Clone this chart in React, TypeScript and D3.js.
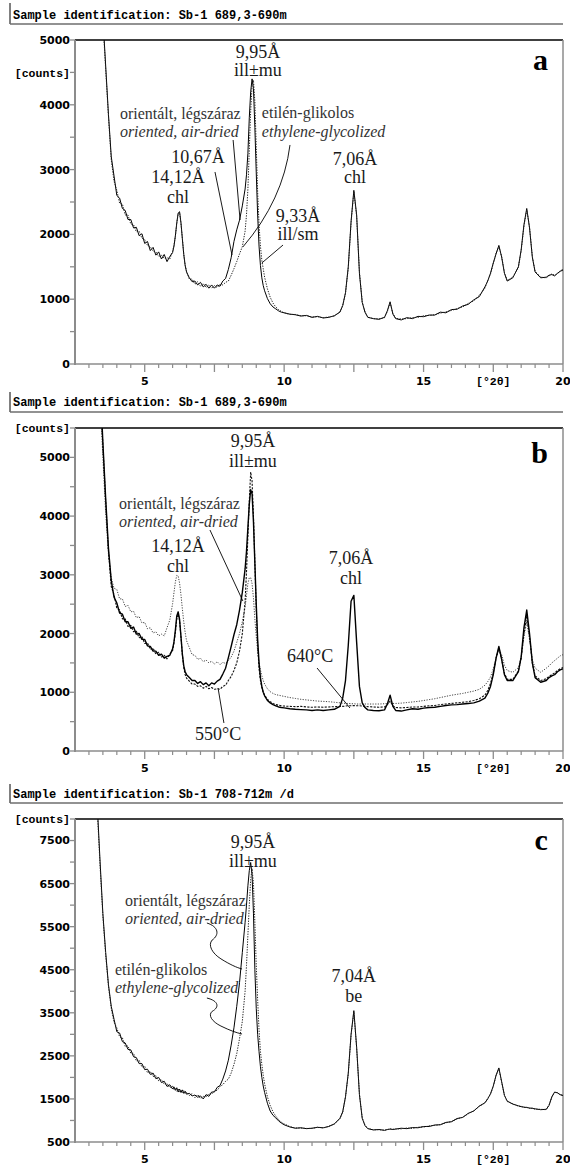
import React from 'react';
import * as d3 from 'd3';

// 2θ grid (degrees) shared by all diffractograms
const twoTheta = [
  3.3, 3.4, 3.5, 3.6, 3.7, 3.8, 3.9, 4.0, 4.1, 4.2, 4.3, 4.4, 4.5, 4.6, 4.7, 4.8, 4.9, 5.0, 5.1, 5.2, 5.3, 5.4, 5.5, 5.6, 5.7, 5.8, 5.9, 6.0,
  6.05, 6.1, 6.15, 6.2, 6.25, 6.3, 6.35, 6.4, 6.45, 6.5,
  6.6, 6.7, 6.8, 6.9, 7.0, 7.1, 7.2, 7.3, 7.4, 7.5, 7.6, 7.7, 7.8, 7.9, 8.0,
  8.1, 8.2, 8.3, 8.4, 8.5,
  8.6, 8.65, 8.7, 8.75, 8.8, 8.85, 8.9, 8.95, 9.0, 9.05, 9.1, 9.15, 9.2, 9.25, 9.3,
  9.4, 9.5, 9.6, 9.7, 9.8, 9.9, 10.0,
  10.2, 10.4, 10.6, 10.8, 11.0, 11.2, 11.4, 11.6, 11.8, 12.0,
  12.1, 12.2, 12.3, 12.4, 12.5, 12.6, 12.7, 12.8, 12.9,
  13.0, 13.2, 13.4, 13.6, 13.7, 13.8, 13.9,
  14.0, 14.2, 14.4, 14.6, 14.8, 15.0, 15.2, 15.4, 15.6, 15.8, 16.0, 16.2, 16.4, 16.6, 16.8, 17.0, 17.2,
  17.3, 17.4, 17.5, 17.6, 17.7, 17.8, 17.9, 18.0,
  18.2, 18.4, 18.5, 18.6, 18.7, 18.8, 18.9, 19.0,
  19.2, 19.4, 19.5, 19.6, 19.7, 19.8, 19.9, 20.0,
];

// Panel a — Sb-1 689,3-690m
const aAirDried = [
  7600, 6300, 5350, 4600, 3850, 3200, 2900, 2600, 2560, 2400, 2370, 2230, 2230, 2100, 2110, 1980, 2010, 1860, 1890, 1750, 1800, 1680, 1730, 1620, 1690, 1580, 1660, 1720,
  1820, 1980, 2180, 2330, 2350, 2180, 1930, 1690, 1520, 1420,
  1330, 1270, 1280, 1220, 1260, 1190, 1230, 1170, 1220, 1170, 1220, 1200, 1280, 1320, 1460,
  1640, 1890, 2070, 2220, 2440,
  2700, 2920, 3250, 3800, 4200, 4400, 4250, 3650, 2950, 2300, 1820, 1520, 1330, 1210, 1130,
  1010, 930, 880, 850, 820, 800, 790,
  770, 760, 740, 750, 720, 735, 710, 720, 745, 800,
  900, 1100, 1500, 2200, 2680, 2300, 1400, 950, 800,
  720, 700, 690, 720, 820, 960, 770,
  700, 680, 715, 700, 735, 730, 755, 755, 800, 790, 840, 845, 895, 920, 990, 1040, 1190,
  1280, 1400, 1560, 1700, 1830, 1650, 1400, 1280,
  1330, 1500, 1760, 2150, 2400, 2100, 1650, 1420,
  1330, 1340, 1370, 1380, 1360, 1400, 1430, 1450,
];
const aGlycolized = [
  7500, 6250, 5300, 4550, 3820, 3150, 2820, 2680, 2480, 2470, 2300, 2300, 2160, 2150, 2040, 2050, 1940, 1920, 1830, 1810, 1740, 1730, 1660, 1680, 1630, 1640, 1620, 1740,
  1830, 1970, 2170, 2320, 2340, 2170, 1940, 1700, 1530, 1430,
  1310, 1310, 1230, 1270, 1200, 1240, 1180, 1220, 1170, 1210, 1180, 1230, 1220, 1260, 1280,
  1370, 1470, 1580, 1700, 1810,
  2050, 2300, 2700, 3300, 3900, 4300, 4380, 4050, 3350, 2650, 2150, 1820, 1600, 1470, 1340,
  1160, 1030, 940, 880, 840, 810, 790,
  765, 765, 745, 745, 725, 730, 715, 725, 740, 805,
  905, 1090, 1480, 2180, 2660, 2280, 1420, 960, 800,
  725, 700, 695, 715, 810, 940, 780,
  705, 695, 700, 715, 720, 745, 750, 760, 785, 805, 825, 855, 880, 935, 975, 1060, 1170,
  1290, 1390, 1550, 1710, 1810, 1660, 1410, 1290,
  1340, 1490, 1750, 2130, 2380, 2110, 1660, 1430,
  1340, 1330, 1360, 1390, 1370, 1390, 1440, 1460,
];

// Panel b — Sb-1 689,3-690m, heated
const bAirDried = [
  7200, 6300, 5250, 4300, 3450, 2900, 2620, 2520, 2350, 2330, 2200, 2200, 2090, 2110, 1990, 2000, 1900, 1900, 1790, 1780, 1700, 1700, 1630, 1650, 1580, 1610, 1630, 1740,
  1860, 2060, 2300, 2370, 2240, 1950, 1650, 1450, 1350, 1300,
  1250, 1200, 1200, 1150, 1180, 1130, 1160, 1110, 1160, 1140, 1190, 1220, 1310, 1410, 1590,
  1780, 1980, 2150, 2400, 2700,
  3100, 3400, 3800, 4200, 4450, 4380, 3900, 3200, 2500, 1900, 1500, 1250, 1100, 1000, 940,
  860, 820, 790, 770, 750, 740, 735,
  720, 710, 705, 700, 690, 700, 690, 700, 710, 760,
  900, 1200, 1800, 2550, 2650, 1850, 1100, 820, 740,
  700, 690, 685, 700, 800, 950, 760,
  690, 680, 700, 720, 710, 730, 740, 745, 760, 775, 785, 790, 800, 810, 820, 850, 900,
  980, 1100, 1300, 1580, 1780, 1560, 1300, 1200,
  1200, 1350, 1600, 2100, 2400, 2000, 1500, 1250,
  1170, 1200, 1250, 1280, 1300, 1350, 1380, 1400,
];
const b550C = [
  7100, 6200, 5200, 4250, 3400, 2800, 2660, 2430, 2400, 2250, 2250, 2120, 2140, 2030, 2040, 1930, 1950, 1830, 1840, 1730, 1750, 1650, 1680, 1600, 1630, 1570, 1650, 1710,
  1840, 2020, 2250, 2330, 2220, 1940, 1640, 1420, 1300, 1240,
  1190, 1140, 1140, 1100, 1110, 1070, 1100, 1060, 1080, 1050, 1060, 1050, 1100, 1120, 1200,
  1270, 1370, 1500, 1700, 2000,
  2550, 3050, 3650, 4250, 4750, 4600, 4000, 3200, 2400, 1800, 1400, 1200, 1080, 1000, 950,
  880, 840, 810, 790, 780, 770, 765,
  760, 755, 760, 750, 745, 750, 745, 750, 755, 760,
  760, 765, 770, 770, 775, 770, 770, 765, 760,
  755, 750, 745, 750, 790, 850, 770,
  740, 735, 740, 750, 750, 760, 770, 775, 790, 800, 810, 820, 830, 840, 860, 890, 950,
  1030, 1150, 1330, 1580, 1750, 1560, 1320, 1220,
  1220, 1360, 1580, 2000, 2300, 1950, 1500, 1280,
  1200, 1230, 1270, 1300, 1330, 1370, 1400, 1420,
];
const b640C = [
  7000, 6000, 5000, 4050, 3350, 2950, 2770, 2750, 2590, 2590, 2460, 2480, 2370, 2380, 2270, 2290, 2180, 2190, 2080, 2100, 2010, 2030, 1960, 1990, 1960, 2100, 2230, 2510,
  2700, 2880, 2990, 2980, 2860, 2660, 2420, 2200, 2020, 1880,
  1760, 1640, 1630, 1560, 1580, 1520, 1550, 1500, 1530, 1480, 1520, 1470, 1510, 1490, 1540,
  1600, 1700, 1850, 2000, 2200,
  2450, 2650, 2850, 2950, 2950, 2850, 2600, 2250, 1950, 1700, 1500, 1380, 1280, 1200, 1140,
  1060, 1010, 980, 960, 950, 940, 930,
  910, 895, 880, 870, 860, 850, 845, 840, 830, 820,
  815, 810, 810, 805, 805, 800, 800, 800, 800,
  800, 800, 800, 805, 810, 830, 810,
  810, 815, 825, 835, 845, 860, 875, 890, 910, 930, 950, 965, 980, 1000, 1020, 1050, 1120,
  1180, 1260, 1400, 1580, 1740, 1640, 1460, 1370,
  1340, 1420, 1600, 1950, 2200, 1900, 1560, 1410,
  1340, 1410, 1450, 1500, 1540, 1580, 1620, 1640,
];

// Panel c — Sb-1 708-712m /d
const cAirDried = [
  8300, 7000, 5800, 4900, 4150, 3650, 3350, 3060, 3030, 2830, 2800, 2650, 2640, 2480, 2460, 2320, 2320, 2180, 2190, 2070, 2100, 1970, 2000, 1880, 1910, 1790, 1830, 1730,
  1780, 1700, 1760, 1660, 1730, 1650, 1710, 1630, 1680, 1610,
  1630, 1570, 1590, 1540, 1570, 1500, 1600, 1560, 1660, 1660, 1770, 1810, 1960, 2150, 2400,
  2750, 3150, 3650, 4200, 4900,
  5600, 6000, 6450, 6800, 6990, 6700, 5800, 4500, 3600, 3000, 2600, 2250, 2000, 1800, 1650,
  1400, 1220, 1120, 1060, 990, 940, 900,
  850, 820, 830, 810, 820, 840, 830, 860, 920, 1050,
  1200, 1550, 2100, 3000, 3550, 2700, 1600, 1050, 880,
  810, 780, 790, 770, 790, 800, 790,
  800, 820, 810, 835, 830, 860, 860, 895, 900, 955, 970, 1045, 1070, 1165, 1220, 1335, 1410,
  1500, 1620, 1800, 2050, 2220, 1900, 1580, 1450,
  1380, 1340, 1320, 1310, 1300, 1290, 1280, 1270,
  1250, 1260, 1350, 1550, 1660, 1640, 1600, 1580,
];
const cGlycolized = [
  8200, 6900, 5750, 4850, 4120, 3600, 3280, 3150, 2940, 2920, 2720, 2730, 2560, 2560, 2380, 2400, 2240, 2260, 2110, 2140, 2020, 2040, 1920, 1950, 1840, 1860, 1760, 1800,
  1710, 1760, 1680, 1730, 1660, 1700, 1640, 1690, 1620, 1660,
  1580, 1620, 1530, 1600, 1510, 1560, 1550, 1620, 1610, 1690, 1700, 1790, 1830, 1910, 1960,
  2100, 2300, 2550, 2900, 3300,
  4000, 4600, 5300, 6000, 6600, 6850, 6500, 5600, 4600, 3800, 3100, 2600, 2300, 2050, 1850,
  1550, 1350, 1200, 1100, 1020, 960, 920,
  860, 825, 825, 815, 815, 845, 825, 865, 915, 1040,
  1190, 1540, 2080, 2980, 3520, 2680, 1620, 1060, 890,
  815, 785, 785, 775, 785, 805, 795,
  805, 805, 825, 815, 845, 845, 875, 885, 905, 945, 975, 1035, 1075, 1155, 1225, 1330, 1410,
  1510, 1610, 1790, 2040, 2200, 1890, 1590, 1440,
  1390, 1330, 1330, 1300, 1310, 1280, 1290, 1260,
  1260, 1250, 1360, 1540, 1650, 1650, 1590, 1590,
];

// Axis ticks
const xMajorTicks = [5, 7.5, 10, 12.5, 15, 17.5, 20];
const xMinorTicks = [3, 3.5, 4, 4.5, 5.5, 6, 6.5, 7, 8, 8.5, 9, 9.5, 10.5, 11, 11.5, 12, 13, 13.5, 14, 14.5, 15.5, 16, 16.5, 17, 18, 18.5, 19, 19.5];
const xTickValues = [5, 10, 15, 17.5, 20];
const xTickLabels = ['5', '10', '15', '[°2θ]', '20'];

const yLabelsA = [0, 1000, 2000, 3000, 4000, 5000];
const yMinorA = [500, 1500, 2500, 3500, 4500];
const yLabelsB = [0, 1000, 2000, 3000, 4000, 5000];
const yMinorB = [500, 1500, 2500, 3500, 4500, 5500];
const yLabelsC = [500, 1500, 2500, 3500, 4500, 5500, 6500, 7500];
const yMinorC = [1000, 2000, 3000, 4000, 5000, 6000, 7000, 8000];

const W = 570;
const H = 1167;
const X0 = 75;
const X1 = 563;
const x = d3.scaleLinear().domain([2.5, 20]).range([X0, X1]);

const MONO = '"Liberation Mono", "DejaVu Sans Mono", monospace';
const SANS = '"DejaVu Sans", Verdana, sans-serif';
const SERIF = '"Liberation Serif", "Times New Roman", serif';

type Series = { values: number[]; stroke: string; width: number; dash?: string };
type Ann = { x: number; y: number; t: string; kind: 'peak' | 'leg' | 'legIt'; anchor?: string };
type Leader = { x1: number; y1: number; x2: number; y2: number; cx?: number; cy?: number };
type Squiggle = { x1: number; y1: number; x2: number; y2: number };

type PanelCfg = {
  id: string;
  sample: string;
  barTop: number;
  headLine: number;
  headText: number;
  top: number;
  bottom: number;
  yDomain: [number, number];
  yLabels: number[];
  yMinor: number[];
  countsAt: number;
  series: Series[];
  ann: Ann[];
  leaders: Leader[];
  squiggles: Squiggle[];
  letter: { x: number; y: number; t: string };
};

const panels: PanelCfg[] = [
  {
    id: 'a',
    sample: 'Sb-1 689,3-690m',
    barTop: 3, headLine: 24, headText: 19, top: 40, bottom: 364,
    yDomain: [0, 5000], yLabels: yLabelsA, yMinor: yMinorA, countsAt: 4500,
    series: [
      { values: aAirDried, stroke: '#000', width: 1 },
      { values: aGlycolized, stroke: '#222', width: 1, dash: '1.3,1.3' },
    ],
    ann: [
      { x: 9.06, y: 4722, t: '9,95Å', kind: 'peak' },
      { x: 9.06, y: 4444, t: 'ill±mu', kind: 'peak' },
      { x: 4.11, y: 3781, t: 'orientált, légszáraz', kind: 'leg', anchor: 'start' },
      { x: 4.11, y: 3503, t: 'oriented, air-dried', kind: 'legIt', anchor: 'start' },
      { x: 9.2, y: 3796, t: 'etilén-glikolos', kind: 'leg', anchor: 'start' },
      { x: 9.2, y: 3503, t: 'ethylene-glycolized', kind: 'legIt', anchor: 'start' },
      { x: 6.91, y: 3102, t: '10,67Å', kind: 'peak' },
      { x: 6.19, y: 2793, t: '14,12Å', kind: 'peak' },
      { x: 6.19, y: 2485, t: 'chl', kind: 'peak' },
      { x: 10.5, y: 2191, t: '9,33Å', kind: 'peak' },
      { x: 10.5, y: 1914, t: 'ill/sm', kind: 'peak' },
      { x: 12.54, y: 3071, t: '7,06Å', kind: 'peak' },
      { x: 12.54, y: 2793, t: 'chl', kind: 'peak' },
    ],
    leaders: [
      { x1: 7.52, y1: 2963, x2: 8.13, y2: 1682 },
      { x1: 8.17, y1: 3457, x2: 8.42, y2: 2222 },
      { x1: 10.21, y1: 3380, x2: 8.52, y2: 1806, cx: 9.96, cy: 2531 },
      { x1: 9.96, y1: 1836, x2: 9.2, y2: 1559 },
    ],
    squiggles: [],
    letter: { x: 19.46, y: 4537, t: 'a' },
  },
  {
    id: 'b',
    sample: 'Sb-1 689,3-690m',
    barTop: 392, headLine: 412, headText: 406, top: 428, bottom: 751,
    yDomain: [0, 5500], yLabels: yLabelsB, yMinor: yMinorB, countsAt: 5500,
    series: [
      { values: b640C, stroke: '#444', width: 1, dash: '1.2,1.4' },
      { values: b550C, stroke: '#111', width: 1.1, dash: '2.2,1.3' },
      { values: bAirDried, stroke: '#000', width: 1.4 },
    ],
    ann: [
      { x: 8.88, y: 5176, t: '9,95Å', kind: 'peak' },
      { x: 8.88, y: 4836, t: 'ill±mu', kind: 'peak' },
      { x: 4.08, y: 4121, t: 'orientált, légszáraz', kind: 'leg', anchor: 'start' },
      { x: 4.08, y: 3814, t: 'oriented, air-dried', kind: 'legIt', anchor: 'start' },
      { x: 6.19, y: 3388, t: '14,12Å', kind: 'peak' },
      { x: 6.19, y: 3048, t: 'chl', kind: 'peak' },
      { x: 7.63, y: 187, t: '550°C', kind: 'peak' },
      { x: 10.93, y: 1515, t: '640°C', kind: 'peak' },
      { x: 12.4, y: 3184, t: '7,06Å', kind: 'peak' },
      { x: 12.4, y: 2844, t: 'chl', kind: 'peak' },
    ],
    leaders: [
      { x1: 7.34, y1: 3763, x2: 8.52, y2: 2554 },
      { x1: 7.84, y1: 477, x2: 7.63, y2: 1073 },
      { x1: 11.18, y1: 1413, x2: 12.36, y2: 732 },
    ],
    squiggles: [],
    letter: { x: 19.46, y: 4904, t: 'b' },
  },
  {
    id: 'c',
    sample: 'Sb-1 708-712m /d',
    barTop: 784, headLine: 803, headText: 798, top: 819, bottom: 1142,
    yDomain: [500, 8000], yLabels: yLabelsC, yMinor: yMinorC, countsAt: 8000,
    series: [
      { values: cAirDried, stroke: '#000', width: 1 },
      { values: cGlycolized, stroke: '#222', width: 1, dash: '1.3,1.3' },
    ],
    ann: [
      { x: 8.88, y: 7326, t: '9,95Å', kind: 'peak' },
      { x: 8.88, y: 6885, t: 'ill±mu', kind: 'peak' },
      { x: 4.29, y: 5980, t: 'orientált, légszáraz', kind: 'leg', anchor: 'start' },
      { x: 4.29, y: 5562, t: 'oriented, air-dried', kind: 'legIt', anchor: 'start' },
      { x: 3.93, y: 4377, t: 'etilén-glikolos', kind: 'leg', anchor: 'start' },
      { x: 3.93, y: 3959, t: 'ethylene-glycolized', kind: 'legIt', anchor: 'start' },
      { x: 12.5, y: 4215, t: '7,04Å', kind: 'peak' },
      { x: 12.5, y: 3750, t: 'be', kind: 'peak' },
    ],
    leaders: [],
    squiggles: [
      { x1: 7.23, y1: 5585, x2: 8.49, y2: 4517 },
      { x1: 7.23, y1: 3843, x2: 8.49, y2: 3008 },
    ],
    letter: { x: 19.46, y: 7280, t: 'c' },
  },
];

function Panel({ cfg }: { cfg: PanelCfg }) {
  const y = d3.scaleLinear().domain(cfg.yDomain).range([cfg.bottom, cfg.top]);
  const line = d3
    .line<number>()
    .x((_, i) => x(twoTheta[i]))
    .y((d) => y(d));
  const clipId = `clip-${cfg.id}`;
  const axisGray = '#8c8c8c';

  const squigglePath = (s: Squiggle) => {
    const sx = x(s.x1), sy = y(s.y1), ex = x(s.x2), ey = y(s.y2);
    const dx = ex - sx, dy = ey - sy;
    const p = (fx: number, fy: number) => `${sx + fx * dx},${sy + fy * dy}`;
    return `M${sx},${sy} C${p(0.34, 0.08)} ${p(0.36, 0.26)} ${p(0.15, 0.37)} C${p(0.02, 0.48)} ${p(0.15, 0.66)} ${p(0.4, 0.78)} S${p(0.85, 0.97)} ${ex},${ey}`;
  };

  return (
    <g>
      <defs>
        <clipPath id={clipId}>
          <rect x={X0} y={cfg.top} width={X1 - X0} height={cfg.bottom - cfg.top} />
        </clipPath>
      </defs>
      {/* header */}
      <line x1={10} x2={10} y1={cfg.barTop} y2={cfg.headLine} stroke="#000" strokeWidth={1} />
      <line x1={10} x2={X1} y1={cfg.headLine} y2={cfg.headLine} stroke="#6e6e6e" strokeWidth={1.5} />
      <text x={13} y={cfg.headText} fontFamily={MONO} fontWeight="bold" fontSize={12} fill="#000">
        {`Sample identification: ${cfg.sample}`}
      </text>

      {/* frame */}
      <line x1={X0} x2={X1} y1={cfg.top} y2={cfg.top} stroke="#000" strokeWidth={1.3} />
      <line x1={X1} x2={X1} y1={cfg.top} y2={cfg.bottom} stroke={axisGray} strokeWidth={1.5} />
      <line x1={X0} x2={X1} y1={cfg.bottom} y2={cfg.bottom} stroke={axisGray} strokeWidth={1.5} />
      <line x1={X0} x2={X0} y1={cfg.top} y2={cfg.bottom + 1} stroke={axisGray} strokeWidth={2} />

      {/* y ticks */}
      {[...cfg.yLabels, ...cfg.yMinor].map((v) => (
        <line key={`yt${v}`} x1={X0 - 5} x2={X0} y1={y(v)} y2={y(v)} stroke={axisGray} strokeWidth={1.3} />
      ))}
      {cfg.yLabels.map((v) => (
        <text key={`yl${v}`} x={70} y={y(v)} dy="0.36em" textAnchor="end" fontFamily={SANS} fontWeight="bold" fontSize={11} fill="#000">
          {v}
        </text>
      ))}
      <text x={70} y={y(cfg.countsAt)} dy="0.36em" textAnchor="end" fontFamily={MONO} fontWeight="bold" fontSize={11.5} fill="#000">
        [counts]
      </text>

      {/* x ticks */}
      {xMinorTicks.map((v) => (
        <line key={`xm${v}`} x1={x(v)} x2={x(v)} y1={cfg.bottom} y2={cfg.bottom + 4} stroke={axisGray} strokeWidth={1.2} />
      ))}
      {xMajorTicks.map((v) => (
        <line key={`xM${v}`} x1={x(v)} x2={x(v)} y1={cfg.bottom} y2={cfg.bottom + 8} stroke={axisGray} strokeWidth={1.3} />
      ))}
      {xTickValues.map((v, i) => (
        <text key={`xl${v}`} x={x(v)} y={cfg.bottom + 21} textAnchor="middle" fontFamily={i === 3 ? MONO : SANS} fontWeight="bold" fontSize={i === 3 ? 11.5 : 11} fill="#000">
          {xTickLabels[i]}
        </text>
      ))}

      {/* curves */}
      <g clipPath={`url(#${clipId})`}>
        {cfg.series.map((s, i) => (
          <path key={i} d={line(s.values) || ''} fill="none" stroke={s.stroke} strokeWidth={s.width} strokeDasharray={s.dash} strokeLinejoin="round" />
        ))}
      </g>

      {/* leaders */}
      {cfg.leaders.map((l, i) =>
        l.cx !== undefined ? (
          <path key={`ld${i}`} d={`M${x(l.x1)},${y(l.y1)} Q${x(l.cx)},${y(l.cy as number)} ${x(l.x2)},${y(l.y2)}`} fill="none" stroke="#000" strokeWidth={0.9} />
        ) : (
          <line key={`ld${i}`} x1={x(l.x1)} y1={y(l.y1)} x2={x(l.x2)} y2={y(l.y2)} stroke="#000" strokeWidth={0.9} />
        )
      )}
      {cfg.squiggles.map((s, i) => (
        <path key={`sq${i}`} d={squigglePath(s)} fill="none" stroke="#000" strokeWidth={0.9} />
      ))}

      {/* annotations */}
      {cfg.ann.map((a, i) => (
        <text
          key={`an${i}`}
          x={x(a.x)}
          y={y(a.y)}
          textAnchor={a.anchor || 'middle'}
          fontFamily={SERIF}
          fontSize={a.kind === 'peak' ? 18 : 16}
          fontStyle={a.kind === 'legIt' ? 'italic' : 'normal'}
          fill={a.kind === 'peak' ? '#1a1a1a' : '#333'}
        >
          {a.t}
        </text>
      ))}
      <text x={x(cfg.letter.x)} y={y(cfg.letter.y)} textAnchor="end" fontFamily={SERIF} fontWeight="bold" fontSize={30} fill="#000">
        {cfg.letter.t}
      </text>
    </g>
  );
}

export default function App() {
  return (
    <svg width={W} height={H} viewBox={`0 0 ${W} ${H}`} style={{ position: 'absolute', left: 0, top: 0, background: '#fff' }}>
      <rect x={0} y={0} width={W} height={H} fill="#fff" />
      {panels.map((p) => (
        <Panel key={p.id} cfg={p} />
      ))}
    </svg>
  );
}
